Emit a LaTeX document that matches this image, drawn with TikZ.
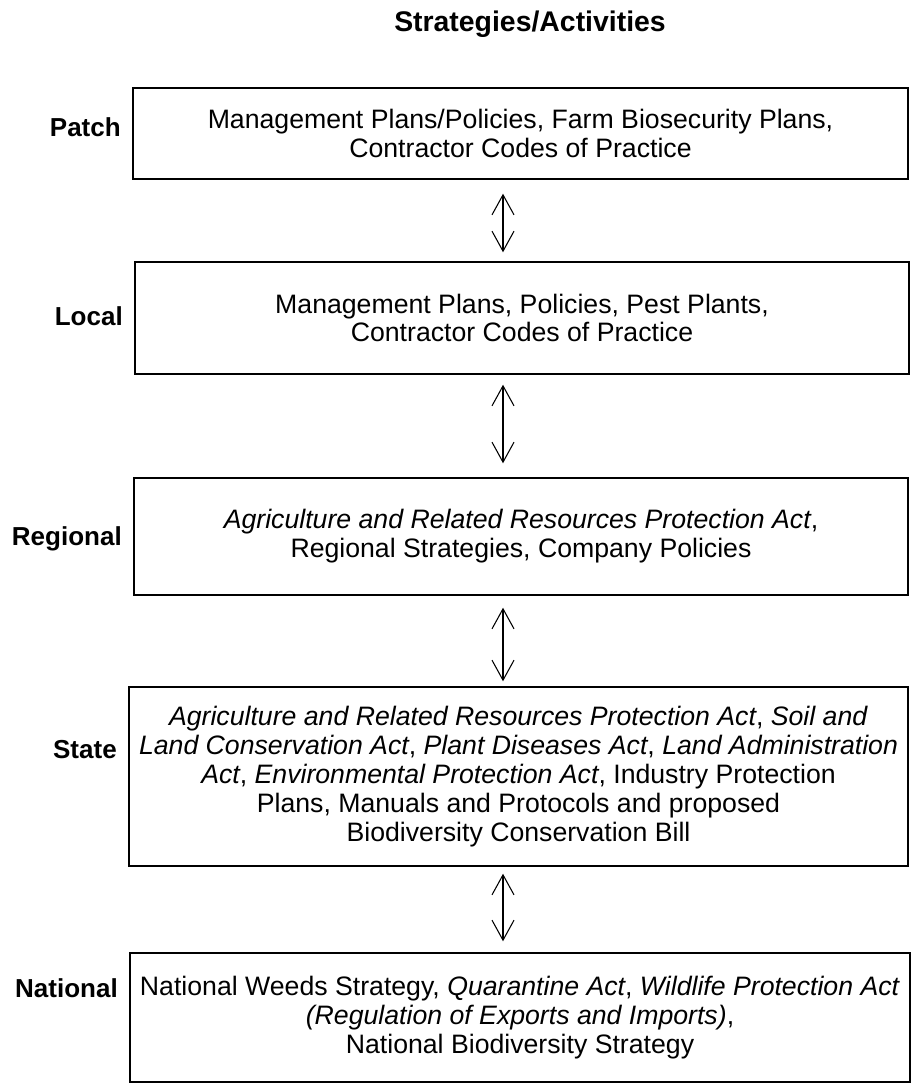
\documentclass[tikz,border=0pt]{standalone}
\usepackage{fontspec}
\setmainfont{Liberation Sans}
\usetikzlibrary{arrows.meta}

\tikzset{
  levelbox/.style={draw, line width=1.1pt, inner sep=0pt, align=center,
    font=\fontsize{20pt}{21.6pt}\selectfont},
  levellabel/.style={anchor=base east, inner sep=0pt,
    font=\fontsize{19.5pt}{22pt}\selectfont\bfseries},
  heading/.style={anchor=base, inner sep=0pt,
    font=\fontsize{21.3pt}{24pt}\selectfont\bfseries},
  twoway/.style={line width=0.8pt,
    {Straight Barb[length=15pt,width=16.5pt,line width=0.8pt]}-{Straight Barb[length=15pt,width=16.5pt,line width=0.8pt]}}
}

\begin{document}
\begin{tikzpicture}[x=0.75pt, y=-0.75pt]
\useasboundingbox (0,0) rectangle (912,1084);

% column heading
\node[heading] (head) at (530,32) {Strategies/Activities};

% one box per level of scale
\node[levelbox, minimum width=581.25pt, minimum height=68.25pt] (patch) at (520.5,133.5)
  {Management Plans/Policies, Farm Biosecurity Plans,\\
   Contractor Codes of Practice};
\node[levelbox, minimum width=580.5pt, minimum height=84pt] (local) at (522,318)
  {Management Plans, Policies, Pest Plants,\\
   Contractor Codes of Practice};
\node[levelbox, minimum width=580.5pt, minimum height=87.75pt] (regional) at (521,536.5)
  {\textit{Agriculture and Related Resources Protection Act},\\
   Regional Strategies, Company Policies};
\node[levelbox, minimum width=584.25pt, minimum height=134.25pt] (state) at (518.5,776.5)
  {\textit{Agriculture and Related Resources Protection Act}, \textit{Soil and}\\
   \textit{Land Conservation Act}, \textit{Plant Diseases Act}, \textit{Land Administration}\\
   \textit{Act}, \textit{Environmental Protection Act}, Industry Protection\\
   Plans, Manuals and Protocols and proposed\\
   Biodiversity Conservation Bill};
\node[levelbox, minimum width=585pt, minimum height=96.75pt] (national) at (520,1017.5)
  {National Weeds Strategy, \textit{Quarantine Act}, \textit{Wildlife Protection Act}\\
   \textit{(Regulation of Exports and Imports)},\\
   National Biodiversity Strategy};

% level names
\node[levellabel] (lpatch) at (121,137) {Patch};
\node[levellabel] (llocal) at (123,325) {Local};
\node[levellabel] (lregional) at (122,545) {Regional};
\node[levellabel] (lstate) at (117,758) {State};
\node[levellabel] (lnational) at (118,997) {National};

% two-way links between neighbouring levels
\coordinate (ax) at (503,0);
\draw[twoway, shorten <=10.5pt, shorten >=6.75pt] (patch.south -| ax) -- (local.north -| ax);
\draw[twoway, shorten <=7.5pt, shorten >=10.5pt] (local.south -| ax) -- (regional.north -| ax);
\draw[twoway, shorten <=9pt, shorten >=3.75pt] (regional.south -| ax) -- (state.north -| ax);
\draw[twoway, shorten <=5.25pt, shorten >=8.25pt] (state.south -| ax) -- (national.north -| ax);
\end{tikzpicture}
\end{document}
